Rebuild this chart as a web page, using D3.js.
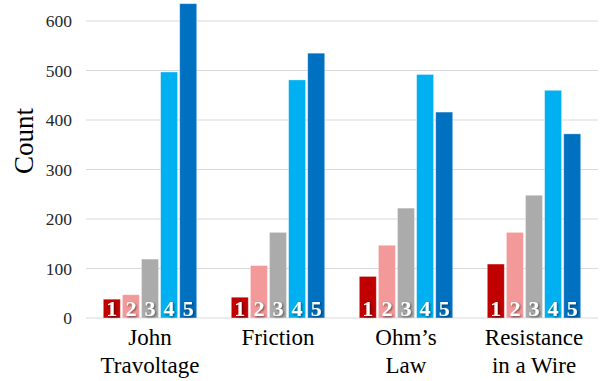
<!DOCTYPE html>
<html>
<head>
<meta charset="utf-8">
<script src="https://cdn.jsdelivr.net/npm/d3@7"></script>
<style>
  html, body { margin: 0; padding: 0; background: #fff; }
  svg { display: block; }
  svg text { font-family: "Liberation Serif", "Times New Roman", serif; }
</style>
</head>
<body>
<svg id="chart" width="601" height="381"></svg>
<script>
// Topics and the count of responses for each rating 1–5
const topics = ["John Travoltage", "Friction", "Ohm\u2019s Law", "Resistance in a Wire"];
const topicLines = [["John", "Travoltage"], ["Friction"], ["Ohm\u2019s", "Law"], ["Resistance", "in a Wire"]];
const ratings = ["1", "2", "3", "4", "5"];
const rating1 = [38, 42, 84, 109];
const rating2 = [47, 106, 147, 173];
const rating3 = [119, 173, 222, 248];
const rating4 = [497, 481, 492, 460];
const rating5 = [635, 535, 416, 372];
const yTicks = [0, 100, 200, 300, 400, 500, 600];
const ratingColors = ["#C00000", "#F4999A", "#ABABAB", "#00B0F0", "#0070C0"];

const series = [rating1, rating2, rating3, rating4, rating5];
const serif = "'Liberation Serif', 'Times New Roman', serif";

const svg = d3.select("#chart");
const margin = { left: 86, right: 3, top: 21, bottom: 63 };
const width = 601, height = 381;

const x0 = d3.scaleBand()
  .domain(topics)
  .range([margin.left, width - margin.right])
  .paddingInner(0.27)
  .paddingOuter(0.135);

const x1 = d3.scaleBand()
  .domain(ratings)
  .range([0, x0.bandwidth()])
  .paddingInner(0.11);

const y = d3.scaleLinear()
  .domain([0, 600])
  .range([height - margin.bottom, margin.top]);

// Horizontal gridlines
svg.append("g")
  .selectAll("line")
  .data(yTicks)
  .join("line")
  .attr("x1", margin.left)
  .attr("x2", width - margin.right)
  .attr("y1", d => y(d))
  .attr("y2", d => y(d))
  .attr("stroke", "#d9d9d9")
  .attr("stroke-width", 1);

// Y axis tick labels
const yAxis = d3.axisLeft(y).tickValues(yTicks).tickSize(0).tickPadding(14);
const yg = svg.append("g")
  .attr("transform", `translate(${margin.left},0)`)
  .call(yAxis)
  .attr("font-family", null)
  .attr("font-size", null);
yg.select(".domain").remove();
yg.selectAll("text")
  .style("font-family", serif)
  .style("font-size", "17.5px")
  .attr("fill", "#262626");

// Y axis title
svg.append("text")
  .attr("transform", `translate(33,141) rotate(-90)`)
  .attr("text-anchor", "middle")
  .style("font-family", serif)
  .style("font-size", "27px")
  .attr("fill", "#000")
  .text("Count");

// Soft shadow behind the rating numbers
const defs = svg.append("defs");
const f = defs.append("filter").attr("id", "numShadow")
  .attr("x", "-50%").attr("y", "-50%").attr("width", "200%").attr("height", "200%");
f.append("feDropShadow").attr("dx", 1).attr("dy", 1).attr("stdDeviation", 0.8)
  .attr("flood-color", "#000").attr("flood-opacity", 0.6);

// Bars
const groups = svg.append("g")
  .selectAll("g")
  .data(topics)
  .join("g")
  .attr("transform", d => `translate(${x0(d)},0)`);

groups.selectAll("rect")
  .data((d, i) => ratings.map((r, j) => ({ r, v: series[j][i], c: ratingColors[j] })))
  .join("rect")
  .attr("x", d => x1(d.r))
  .attr("y", d => y(d.v))
  .attr("width", x1.bandwidth())
  .attr("height", d => y(0) - y(d.v))
  .attr("fill", d => d.c)
  .attr("stroke", "rgba(255,255,255,0.45)")
  .attr("stroke-width", 0.8);

// Rating numbers at the base of each bar
groups.selectAll("text.num")
  .data(ratings)
  .join("text")
  .attr("class", "num")
  .attr("x", d => x1(d) + x1.bandwidth() / 2)
  .attr("y", y(0) - 2)
  .attr("text-anchor", "middle")
  .style("font-family", serif)
  .style("font-weight", "bold")
  .style("font-size", "22px")
  .attr("fill", "#fff")
  .attr("filter", "url(#numShadow)")
  .text(d => d);

// Category labels
const catG = svg.append("g");
topics.forEach((t, i) => {
  const cx = x0(t) + x0.bandwidth() / 2;
  const txt = catG.append("text")
    .attr("text-anchor", "middle")
    .style("font-family", serif)
    .style("font-size", "23px")
    .attr("fill", "#000");
  topicLines[i].forEach((line, k) => {
    txt.append("tspan")
      .attr("x", cx)
      .attr("y", 345 + k * 28)
      .text(line);
  });
});
</script>
</body>
</html>
